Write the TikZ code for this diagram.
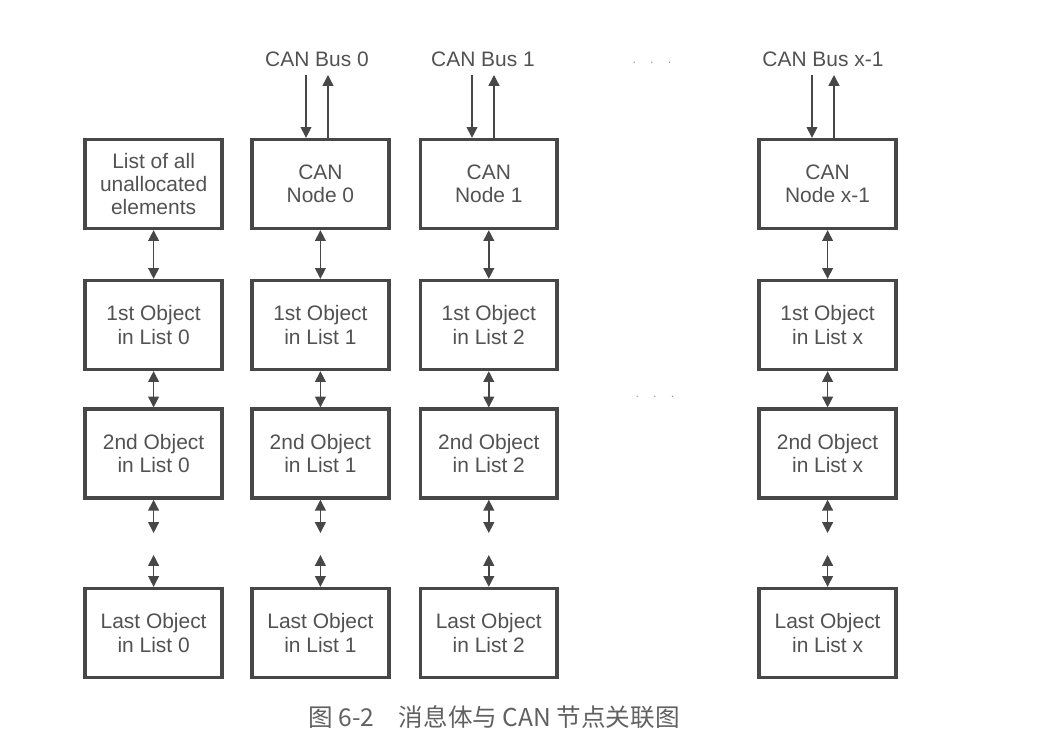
\documentclass[tikz,border=0pt]{standalone}
\usepackage{fontspec}
\setmainfont{Liberation Sans}
\newfontfamily\cjk{Noto Sans CJK SC}
\usetikzlibrary{arrows.meta}

\begin{document}
\begin{tikzpicture}[block/.style={draw=black!72,line width=2.5pt,fill=white,align=center,minimum width=3.42cm,minimum height=2.22cm,inner sep=2pt,text=black!68,font=\fontsize{14.9}{16.6}\selectfont},buslabel/.style={text=black!68,inner xsep=0pt,inner ysep=0.2cm,font=\fontsize{14.9}{16.6}\selectfont},arrow/.style={-{Triangle[length=2.7mm,width=2.7mm]},line width=1pt,draw=black!72},dblarrow/.style={{Triangle[length=2.7mm,width=2.7mm]}-{Triangle[length=2.7mm,width=2.7mm]},line width=1pt,draw=black!72},dots/.style={text=black!40,font=\small},caption/.style={text=black!62,font=\cjk\fontsize{17.5}{20}\selectfont}]
\useasboundingbox (0,0) rectangle (26.375,-18.65);
% bus labels
\node[buslabel,anchor=south] (bus1) at (7.925,-1.875) {CAN Bus 0};
\node[buslabel,anchor=south] (bus2) at (12.075,-1.875) {CAN Bus 1};
\node[buslabel,anchor=south] (bus3) at (20.575,-1.875) {CAN Bus x-1};
\node[dots] (dotsa) at (16.3,-1.575) {.\hspace{0.35cm}.\hspace{0.35cm}.};
\node[dots] (dotsb) at (16.375,-9.925) {.\hspace{0.35cm}.\hspace{0.35cm}.};
% head row
\node[block] (n00) at (3.84,-4.6) {List of all\\unallocated\\elements};
\node[block] (n10) at (8.01,-4.6) {CAN\\Node 0};
\node[block] (n20) at (12.22,-4.6) {CAN\\Node 1};
\node[block] (n30) at (20.69,-4.6) {CAN\\Node x-1};
% 1st objects
\node[block] (n01) at (3.84,-8.125) {1st Object\\in List 0};
\node[block] (n11) at (8.01,-8.125) {1st Object\\in List 1};
\node[block] (n21) at (12.22,-8.125) {1st Object\\in List 2};
\node[block] (n31) at (20.69,-8.125) {1st Object\\in List x};
% 2nd objects
\node[block] (n02) at (3.84,-11.34) {2nd Object\\in List 0};
\node[block] (n12) at (8.01,-11.34) {2nd Object\\in List 1};
\node[block] (n22) at (12.22,-11.34) {2nd Object\\in List 2};
\node[block] (n32) at (20.69,-11.34) {2nd Object\\in List x};
% last objects
\node[block] (n03) at (3.84,-15.825) {Last Object\\in List 0};
\node[block] (n13) at (8.01,-15.825) {Last Object\\in List 1};
\node[block] (n23) at (12.22,-15.825) {Last Object\\in List 2};
\node[block] (n33) at (20.69,-15.825) {Last Object\\in List x};
% bus connections
\draw[arrow] ([xshift=-0.275cm]bus1.south) -- ([xshift=-0.275cm]bus1.south |- n10.north);
\draw[arrow] ([xshift=0.275cm]bus1.south |- n10.north) -- ([xshift=0.275cm]bus1.south);
\draw[arrow] ([xshift=-0.275cm]bus2.south) -- ([xshift=-0.275cm]bus2.south |- n20.north);
\draw[arrow] ([xshift=0.275cm]bus2.south |- n20.north) -- ([xshift=0.275cm]bus2.south);
\draw[arrow] ([xshift=-0.275cm]bus3.south) -- ([xshift=-0.275cm]bus3.south |- n30.north);
\draw[arrow] ([xshift=0.275cm]bus3.south |- n30.north) -- ([xshift=0.275cm]bus3.south);
% list links
\draw[dblarrow] (n00) -- (n01);
\draw[dblarrow] (n10) -- (n11);
\draw[dblarrow] (n20) -- (n21);
\draw[dblarrow] (n30) -- (n31);
\draw[dblarrow] (n01) -- (n02);
\draw[dblarrow] (n11) -- (n12);
\draw[dblarrow] (n21) -- (n22);
\draw[dblarrow] (n31) -- (n32);
% gap before last object
\coordinate (g0a) at (3.84,-13.325);
\coordinate (g0b) at (3.84,-13.875);
\coordinate (g1a) at (8.01,-13.325);
\coordinate (g1b) at (8.01,-13.875);
\coordinate (g2a) at (12.22,-13.325);
\coordinate (g2b) at (12.22,-13.875);
\coordinate (g3a) at (20.69,-13.325);
\coordinate (g3b) at (20.69,-13.875);
\draw[dblarrow] (n02) -- (g0a);
\draw[dblarrow] (g0b) -- (n03);
\draw[dblarrow] (n12) -- (g1a);
\draw[dblarrow] (g1b) -- (n13);
\draw[dblarrow] (n22) -- (g2a);
\draw[dblarrow] (g2b) -- (n23);
\draw[dblarrow] (n32) -- (g3a);
\draw[dblarrow] (g3b) -- (n33);
\node[caption] (cap) at (12.35,-17.925) {图 6-2\quad 消息体与 CAN 节点关联图};
\end{tikzpicture}
\end{document}
